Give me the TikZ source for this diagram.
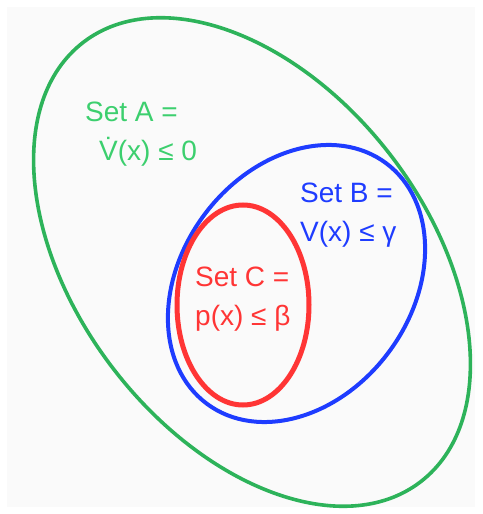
\documentclass[tikz,border=0pt]{standalone}
\usepackage{fontspec}
\setmainfont{Liberation Sans}
\definecolor{setgreen}{HTML}{2DB35A}
\definecolor{setgreentext}{HTML}{3CCF6E}
\definecolor{setblue}{HTML}{1E3CFF}
\definecolor{setred}{HTML}{FF3535}
\definecolor{paper}{HTML}{FAFAFA}
\tikzset{
  setline/.style={line width=#1},
  setlabel/.style={anchor=base west,inner sep=0pt,font=\fontsize{28}{39}\selectfont}
}
\begin{document}
\begin{tikzpicture}[x=1pt,y=1pt]
\useasboundingbox (0,0) rectangle (482,514);
\fill[white] (0,0) rectangle (482,514);
\fill[paper] (7,7) rectangle (475,507);

% the three sets
\draw[setgreen,setline=3.6pt] (252,252) ellipse[x radius=277,y radius=175,rotate=-52.5];
\draw[setblue,setline=4pt] (296.5,230.5) ellipse[x radius=150,y radius=115,rotate=53.3];
\draw[setred,setline=5pt] (243,209) ellipse[x radius=66,y radius=100];

\node[setlabel,text=setgreentext] (setA) at (85,392) {Set A =};
\node[setlabel,text=setgreentext] (condA) at (99,353) {\.{V}(x) ≤ 0};
\node[setlabel,text=setblue] (setB) at (300,311) {Set B =};
\node[setlabel,text=setblue] (condB) at (300,272) {V(x) ≤ γ};
\node[setlabel,text=setred] (setC) at (195,227) {Set C =};
\node[setlabel,text=setred] (condC) at (195,188) {p(x) ≤ β};
\end{tikzpicture}
\end{document}
